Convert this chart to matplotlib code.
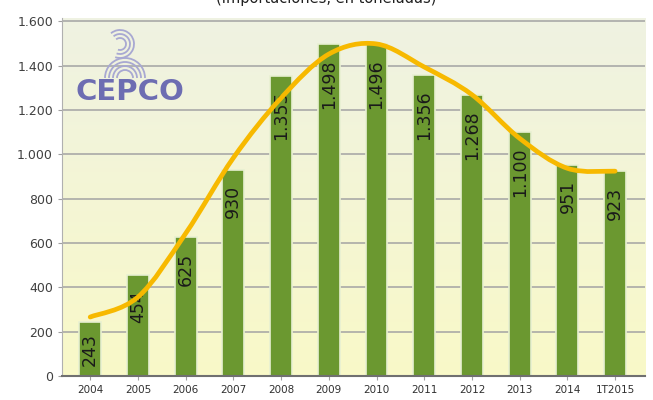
import numpy as np
import matplotlib
matplotlib.use('Agg')
import matplotlib.pyplot as plt
from matplotlib.path import Path
from matplotlib.patches import PathPatch, Arc

# datos del grafico
anios = ['2004', '2005', '2006', '2007', '2008', '2009', '2010', '2011', '2012', '2013', '2014', '1T2015']
valores = [243, 454, 625, 930, 1355, 1498, 1496, 1356, 1268, 1100, 951, 923]
etiquetas = ['243', '454', '625', '930', '1.355', '1.498', '1.496', '1.356', '1.268', '1.100', '951', '923']
tendencia = [266, 356, 643, 984, 1254, 1452, 1498, 1394, 1269, 1072, 937, 924]
ticks_y = [0, 200, 400, 600, 800, 1000, 1200, 1400, 1600]
ticks_y_txt = ['0', '200', '400', '600', '800', '1.000', '1.200', '1.400', '1.600']

fig = plt.figure(figsize=(6.53, 4.0), dpi=100)
ax = fig.add_axes([0.095, 0.06, 0.893, 0.895])

x = np.arange(len(anios))
ax.set_xlim(-0.59, 11.63)
ax.set_ylim(0, 1615)

# fondo degradado
grad = np.linspace(0, 1, 100).reshape(-1, 1)
c_abajo = np.array([0xf9, 0xf9, 0xc8]) / 255
c_arriba = np.array([0xef, 0xf2, 0xe2]) / 255
img = c_abajo + grad * (c_arriba - c_abajo)
img = img.reshape(100, 1, 3)
ax.imshow(img, extent=[-0.59, 11.63, 0, 1615], origin='lower', aspect='auto', zorder=0)

# rejilla
for t in ticks_y:
    ax.axhline(t, color='#a3a3a3', lw=1.1, zorder=1)

# barras
ax.bar(x, valores, width=0.46, color='#6b9830', edgecolor='#e8f0d2', linewidth=1.2, zorder=2)

# etiquetas de valores (dentro de la barra, arriba; centrada si la barra es baja)
for i in range(len(valores)):
    if valores[i] < 300:
        ax.text(x[i], valores[i] / 2, etiquetas[i], rotation=90, ha='center', va='center',
                fontsize=12.5, color='#1a1a1a', zorder=3)
    else:
        ax.text(x[i], valores[i] - 68, etiquetas[i], rotation=90, ha='center', va='top',
                fontsize=12.5, color='#1a1a1a', zorder=3)

# curva suavizada (Catmull-Rom -> Bezier)
pts = np.column_stack([x, tendencia]).astype(float)
verts = [pts[0]]
codes = [Path.MOVETO]
n = len(pts)
for i in range(n - 1):
    p0 = pts[i - 1] if i > 0 else pts[i]
    p1 = pts[i]
    p2 = pts[i + 1]
    p3 = pts[i + 2] if i + 2 < n else pts[i + 1]
    c1 = p1 + (p2 - p0) / 6
    c2 = p2 - (p3 - p1) / 6
    verts += [c1, c2, p2]
    codes += [Path.CURVE4] * 3
ax.add_patch(PathPatch(Path(verts, codes), facecolor='none', edgecolor='#f7b900',
                       lw=3.4, capstyle='round', zorder=4))

# ejes
ax.set_yticks(ticks_y)
ax.set_yticklabels(ticks_y_txt, fontsize=9, color='#404040')
ax.set_xticks(x)
ax.set_xticklabels(anios, fontsize=7.5, color='#303030')
ax.tick_params(axis='both', length=3, color='#a0a0a0')
for s in ['top', 'right']:
    ax.spines[s].set_visible(False)
ax.spines['left'].set_color('#b0b0b0')
ax.spines['bottom'].set_color('#707070')
ax.spines['bottom'].set_linewidth(1.5)

# logo CEPCO
ax.text(0.84, 1280, 'CEPCO', fontsize=21, fontweight='bold', color='#6d6db2',
        ha='center', va='center', zorder=3)

# simbolo del logo en coordenadas de pixel
lg = fig.add_axes([90 / 653, 1 - 82 / 400, 70 / 653, 60 / 400])
lg.set_xlim(90, 160)
lg.set_ylim(82, 22)
lg.axis('off')
for r in [8, 12, 16, 20]:
    lg.add_patch(Arc((125, 78), 2 * r, 2 * r, theta1=180, theta2=360,
                     color='#a8a8d2', lw=1.3))
for r in [6, 10, 14]:
    lg.add_patch(Arc((120, 44), 2 * r, 2 * r, theta1=-130, theta2=110,
                     color='#a8a8d2', lw=1.3))

# titulo cortado arriba
fig.text(0.5, 1 - 3 / 400, '(Importaciones, en toneladas)', ha='center', va='baseline',
         fontsize=10.5, color='#202020')

fig.savefig('out.png', dpi=100)
